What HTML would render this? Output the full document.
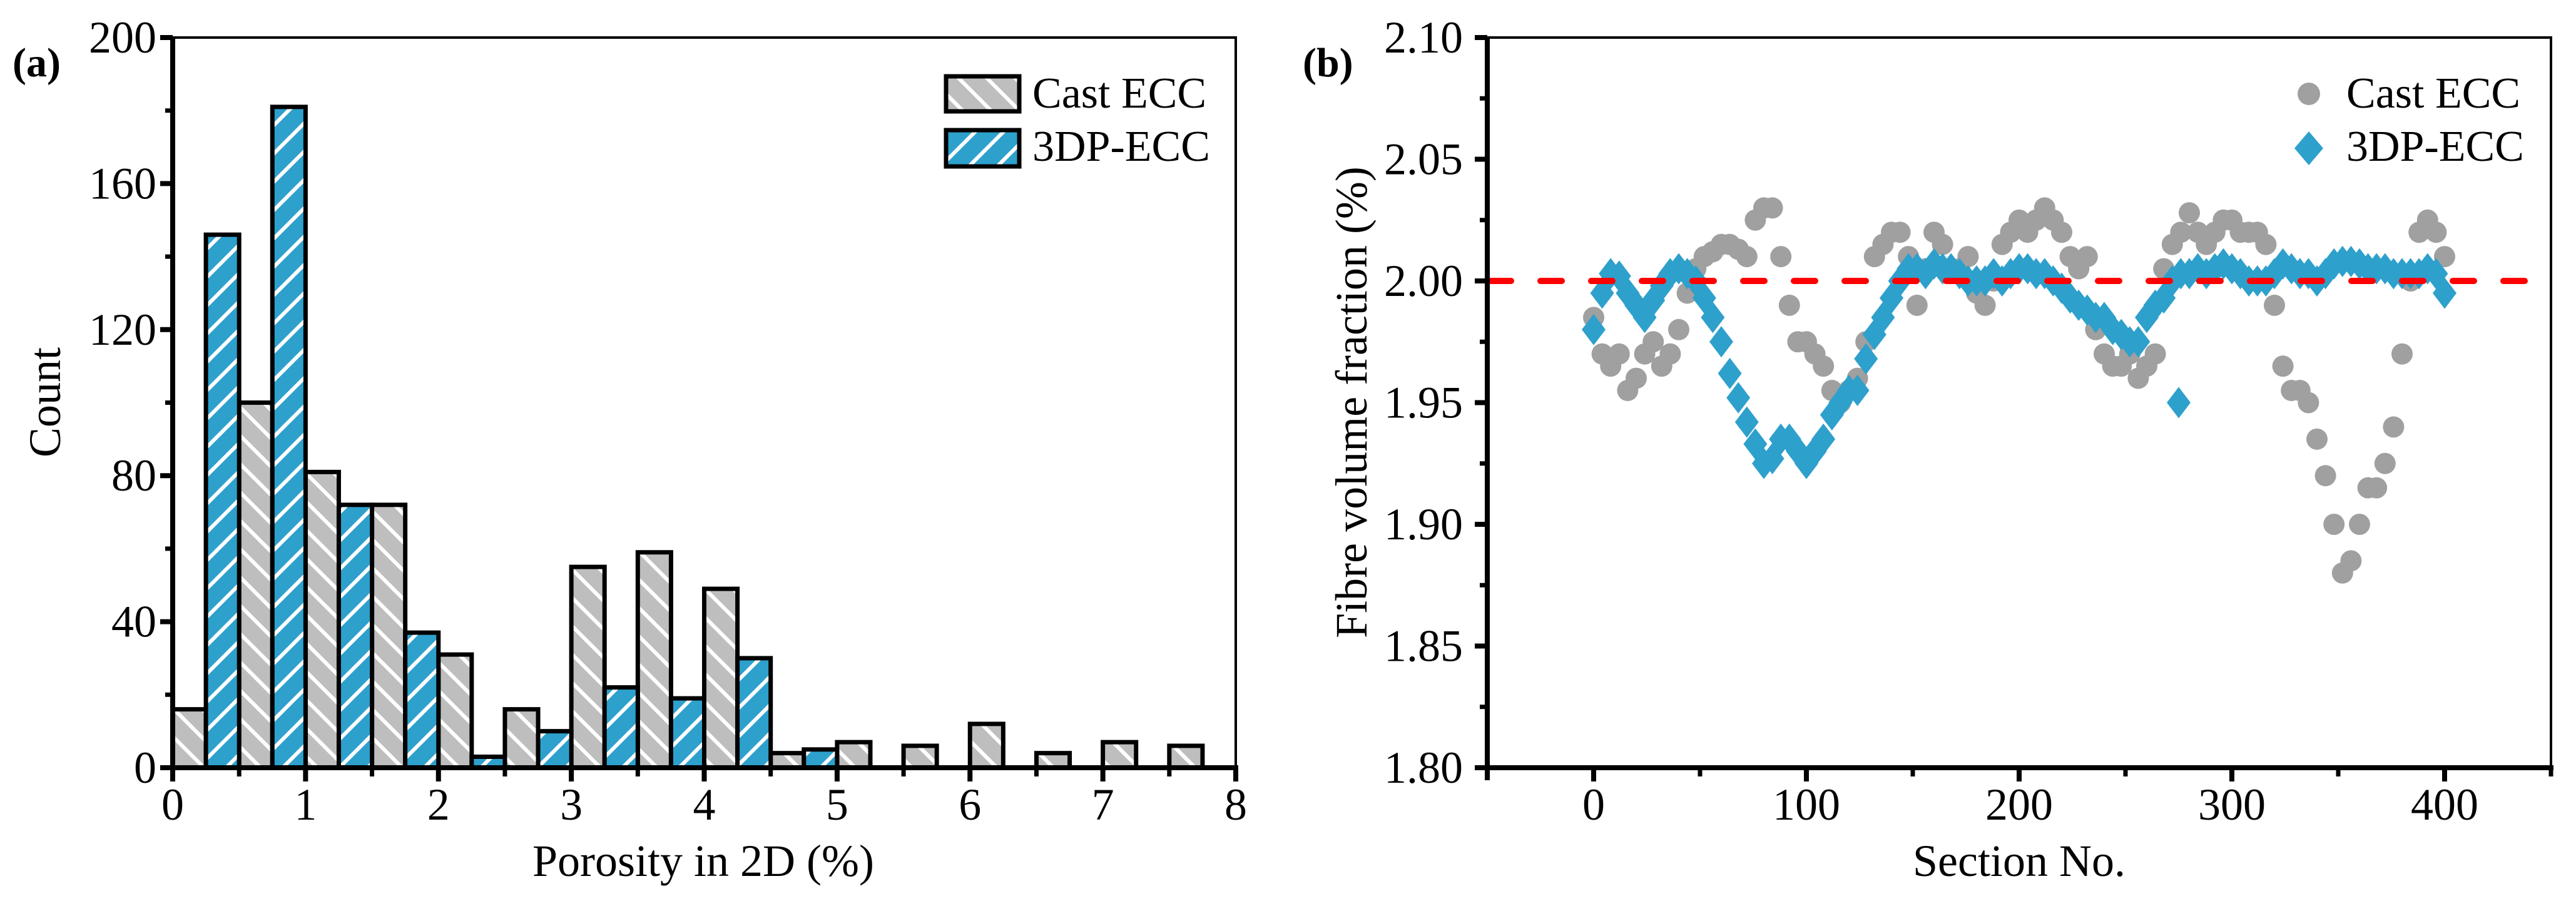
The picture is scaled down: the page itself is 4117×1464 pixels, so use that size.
<!DOCTYPE html>
<html><head><meta charset="utf-8"><style>
html,body{margin:0;padding:0;background:#fff;}
svg text{font-family:"Liberation Serif",serif;fill:#000;}
</style></head><body>
<svg id="fig" width="4117" height="1459" viewBox="0 0 4117 1459" xmlns="http://www.w3.org/2000/svg">
<defs>
<pattern id="hatchCast" patternUnits="userSpaceOnUse" width="32" height="32" patternTransform="rotate(-45)">
<rect width="32" height="32" fill="#bebebe"/><rect x="0" y="0" width="6" height="32" fill="#fff"/>
</pattern>
<pattern id="hatch3dp" patternUnits="userSpaceOnUse" width="32" height="32" patternTransform="rotate(45)">
<rect width="32" height="32" fill="#2ea0cc"/><rect x="0" y="0" width="6" height="32" fill="#fff"/>
</pattern>
<clipPath id="clipB"><rect x="2377" y="60" width="1700" height="1167"/></clipPath>
</defs>
<g id="chartA"></g>
<g id="chartB"></g>
</svg>
<script>
// ---------- Chart (a) data ----------
const castBinStarts = [0,0.5,1,1.5,2,2.5,3,3.5,4,4.5,5,5.5,6,6.5,7,7.5];
const castCounts = [16,100,81,72,31,16,55,59,49,4,7,6,12,4,7,6];
const dpBinStarts = [0.25,0.75,1.25,1.75,2.25,2.75,3.25,3.75,4.25,4.75];
const dpCounts = [146,181,72,37,3,10,22,19,30,5];
const binWidth = 0.25;
const aXTicks = [0,1,2,3,4,5,6,7,8];
const aYTicks = [0,40,80,120,160,200];

// ---------- Chart (b) data ----------
const castSections = [0,4,8,12,16,20,24,28,32,36,40,44,48,52,56,60,64,68,72,76,80,84,88,92,96,100,104,108,112,116,120,124,128,132,136,140,144,148,152,156,160,164,168,172,176,180,184,188,192,196,200,204,208,212,216,220,224,228,232,236,240,244,248,252,256,260,264,268,272,276,280,284,288,292,296,300,304,308,312,316,320,324,328,332,336,340,344,348,352,356,360,364,368,372,376,380,384,388,392,396,400];
const castValues = [1.985,1.97,1.965,1.97,1.955,1.96,1.97,1.975,1.965,1.97,1.98,1.995,2.005,2.01,2.012,2.015,2.015,2.013,2.01,2.025,2.03,2.03,2.01,1.99,1.975,1.975,1.97,1.965,1.955,1.95,1.955,1.96,1.975,2.01,2.015,2.02,2.02,2.01,1.99,2.005,2.02,2.015,2.005,2.005,2.01,1.995,1.99,2.0,2.015,2.02,2.025,2.02,2.025,2.03,2.025,2.02,2.01,2.005,2.01,1.98,1.97,1.965,1.965,1.97,1.96,1.965,1.97,2.005,2.015,2.02,2.028,2.02,2.015,2.02,2.025,2.025,2.02,2.02,2.02,2.015,1.99,1.965,1.955,1.955,1.95,1.935,1.92,1.9,1.88,1.885,1.9,1.915,1.915,1.925,1.94,1.97,2.0,2.02,2.025,2.02,2.01];
const dpSections = [0,4,8,12,16,20,24,28,32,36,40,44,48,52,56,60,64,68,72,76,80,84,88,92,96,100,104,108,112,116,120,124,128,132,136,140,144,148,152,156,160,164,168,172,176,180,184,188,192,196,200,204,208,212,216,220,224,228,232,236,240,244,248,252,256,260,264,268,272,275,276,280,284,288,292,296,300,304,308,312,316,320,324,328,332,336,340,344,348,352,356,360,364,368,372,376,380,384,388,392,396,400];
const dpValues = [1.98,1.995,2.003,2.002,1.995,1.99,1.985,1.992,1.998,2.003,2.005,2.003,2.0,1.993,1.985,1.975,1.962,1.952,1.942,1.933,1.925,1.927,1.935,1.935,1.93,1.925,1.93,1.935,1.945,1.95,1.955,1.955,1.968,1.978,1.985,1.993,2.0,2.005,2.005,2.003,2.007,2.005,2.005,2.003,2.0,2.0,2.0,2.003,2.0,2.003,2.005,2.005,2.003,2.003,2.0,1.997,1.993,1.99,1.988,1.985,1.985,1.98,1.978,1.975,1.975,1.985,1.99,1.993,2.0,1.95,2.003,2.003,2.005,2.003,2.005,2.007,2.005,2.003,2.0,2.0,2.0,2.003,2.007,2.005,2.003,2.003,2.0,2.003,2.007,2.008,2.008,2.007,2.005,2.005,2.005,2.003,2.003,2.003,2.003,2.005,2.003,1.995];
const bXTicks = [0,100,200,300,400];
const bYTicks = [1.80,1.85,1.90,1.95,2.00,2.05,2.10];
const targetValue = 2.0;

const NS = 'http://www.w3.org/2000/svg';
function mk(parent, tag, attrs, text) {
  const e = document.createElementNS(NS, tag);
  for (const k in attrs) e.setAttribute(k, attrs[k]);
  if (text !== undefined) e.textContent = text;
  parent.appendChild(e);
  return e;
}

// ---------- Chart (a) ----------
(function(){
  const g = document.getElementById('chartA');
  const L=276,R=1975,T=60,B=1227;
  const xs = v => L + (v-0)/(8-0)*(R-L);
  const ys = v => B - (v-0)/(200-0)*(B-T);
  let f = mk(g,'rect',{x:L,y:T,width:R-L,height:B-T,fill:'none',stroke:'#000','stroke-width':4});
  
  
  castBinStarts.forEach((s,i)=>{
    const r = mk(g,'rect',{x:xs(s),y:ys(castCounts[i]),width:xs(s+binWidth)-xs(s),height:ys(0)-ys(castCounts[i]),fill:'url(#hatchCast)',stroke:'#000','stroke-width':7});
    
    
  });
  dpBinStarts.forEach((s,i)=>{
    const r = mk(g,'rect',{x:xs(s),y:ys(dpCounts[i]),width:xs(s+binWidth)-xs(s),height:ys(0)-ys(dpCounts[i]),fill:'url(#hatch3dp)',stroke:'#000','stroke-width':7});
    
    
  });
  let ax = mk(g,'line',{x1:L-18,y1:B,x2:R+4,y2:B,stroke:'#000','stroke-width':8});
  
  
  let ay = mk(g,'line',{x1:L,y1:T-2,x2:L,y2:B+20,stroke:'#000','stroke-width':8});
  
  
  aXTicks.forEach(v=>{
    mk(g,'line',{x1:xs(v),y1:B,x2:xs(v),y2:B+22,stroke:'#000','stroke-width':8});
    if (v<8) mk(g,'line',{x1:xs(v+0.5),y1:B,x2:xs(v+0.5),y2:B+14,stroke:'#000','stroke-width':7});
    const t = mk(g,'text',{x:xs(v),y:1310,'font-size':72,'text-anchor':'middle'},String(v));
    
    
  });
  aYTicks.forEach((v,i)=>{
    mk(g,'line',{x1:L-20,y1:ys(v),x2:L,y2:ys(v),stroke:'#000','stroke-width':8});
    if (i<aYTicks.length-1) mk(g,'line',{x1:L-12,y1:ys(v+20),x2:L,y2:ys(v+20),stroke:'#000','stroke-width':7});
    const t = mk(g,'text',{x:250,y:ys(v)+24,'font-size':72,'text-anchor':'end'},String(v));
    
    
  });
  let xt = mk(g,'text',{x:1124,y:1400,'font-size':72,'text-anchor':'middle'},'Porosity in 2D (%)');
  
  
  let yt = mk(g,'text',{x:0,y:0,'font-size':72,'text-anchor':'middle',transform:'translate(96,643) rotate(-90)'},'Count');
  
  
  let pl = mk(g,'text',{x:20,y:122,'font-size':66,'font-weight':'bold'},'(a)');
  
  
  const lg = mk(g,'g',{});
  
  
  let b1 = mk(lg,'rect',{x:1512,y:122,width:117,height:56,fill:'url(#hatchCast)',stroke:'#000','stroke-width':7});
  
  
  let t1 = mk(lg,'text',{x:1650,y:172,'font-size':70},'Cast ECC');
  
  
  let b2 = mk(lg,'rect',{x:1512,y:208,width:117,height:58,fill:'url(#hatch3dp)',stroke:'#000','stroke-width':7});
  
  
  let t2 = mk(lg,'text',{x:1650,y:257,'font-size':70},'3DP-ECC');
  
  
})();

// ---------- Chart (b) ----------
(function(){
  const g = document.getElementById('chartB');
  const L=2377,R=4077,T=60,B=1227;
  const xs = v => L + (v-(-50))/(450-(-50))*(R-L);
  const ys = v => B - (v-1.8)/(2.1-1.8)*(B-T);
  let f = mk(g,'rect',{x:L,y:T,width:R-L,height:B-T,fill:'none',stroke:'#000','stroke-width':4});
  
  
  const pts = mk(g,'g',{'clip-path':'url(#clipB)'});
  castSections.forEach((s,i)=>{
    const c = mk(pts,'circle',{cx:xs(s),cy:ys(castValues[i]),r:17,fill:'#a0a0a0'});
    
    
  });
  dpSections.forEach((s,i)=>{
    const x=xs(s), y=ys(dpValues[i]);
    const d = mk(pts,'polygon',{points:`${x},${y-25} ${x+19},${y} ${x},${y+25} ${x-19},${y}`,fill:'#2ea0cc'});
    
    
  });
  let rl = mk(g,'line',{x1:L+4,y1:ys(targetValue),x2:R,y2:ys(targetValue),stroke:'#ff0000','stroke-width':10,'stroke-dasharray':'34 47','stroke-linecap':'round'});
  
  
  let ax = mk(g,'line',{x1:L-18,y1:B,x2:R+4,y2:B,stroke:'#000','stroke-width':8});
  
  
  let ay = mk(g,'line',{x1:L,y1:T-2,x2:L,y2:B+20,stroke:'#000','stroke-width':8});
  
  
  bXTicks.forEach(v=>{
    mk(g,'line',{x1:xs(v),y1:B,x2:xs(v),y2:B+22,stroke:'#000','stroke-width':8});
    const t = mk(g,'text',{x:xs(v),y:1310,'font-size':72,'text-anchor':'middle'},String(v));
    
    
  });
  [-50,50,150,250,350,450].forEach(v=>{
    mk(g,'line',{x1:xs(v),y1:B,x2:xs(v),y2:B+14,stroke:'#000','stroke-width':7});
  });
  bYTicks.forEach((v,i)=>{
    mk(g,'line',{x1:L-20,y1:ys(v),x2:L,y2:ys(v),stroke:'#000','stroke-width':8});
    if (i<bYTicks.length-1) mk(g,'line',{x1:L-12,y1:ys(v+0.025),x2:L,y2:ys(v+0.025),stroke:'#000','stroke-width':7});
    const t = mk(g,'text',{x:2338,y:ys(v)+24,'font-size':72,'text-anchor':'end'},v.toFixed(2));
    
    
  });
  let xt = mk(g,'text',{x:3227,y:1400,'font-size':72,'text-anchor':'middle'},'Section No.');
  
  
  let yt = mk(g,'text',{x:0,y:0,'font-size':72,'text-anchor':'middle',transform:'translate(2184,643) rotate(-90)'},'Fibre volume fraction (%)');
  
  
  let pl = mk(g,'text',{x:2082,y:122,'font-size':66,'font-weight':'bold'},'(b)');
  
  
  const lg = mk(g,'g',{});
  
  
  let m1 = mk(lg,'circle',{cx:3690,cy:150,r:18,fill:'#a0a0a0'});
  
  
  let t1 = mk(lg,'text',{x:3750,y:172,'font-size':70},'Cast ECC');
  
  
  let m2 = mk(lg,'polygon',{points:'3690,210 3713,237 3690,264 3667,237',fill:'#2ea0cc'});
  
  
  let t2 = mk(lg,'text',{x:3750,y:257,'font-size':70},'3DP-ECC');
  
  
})();
</script>
</body></html>
